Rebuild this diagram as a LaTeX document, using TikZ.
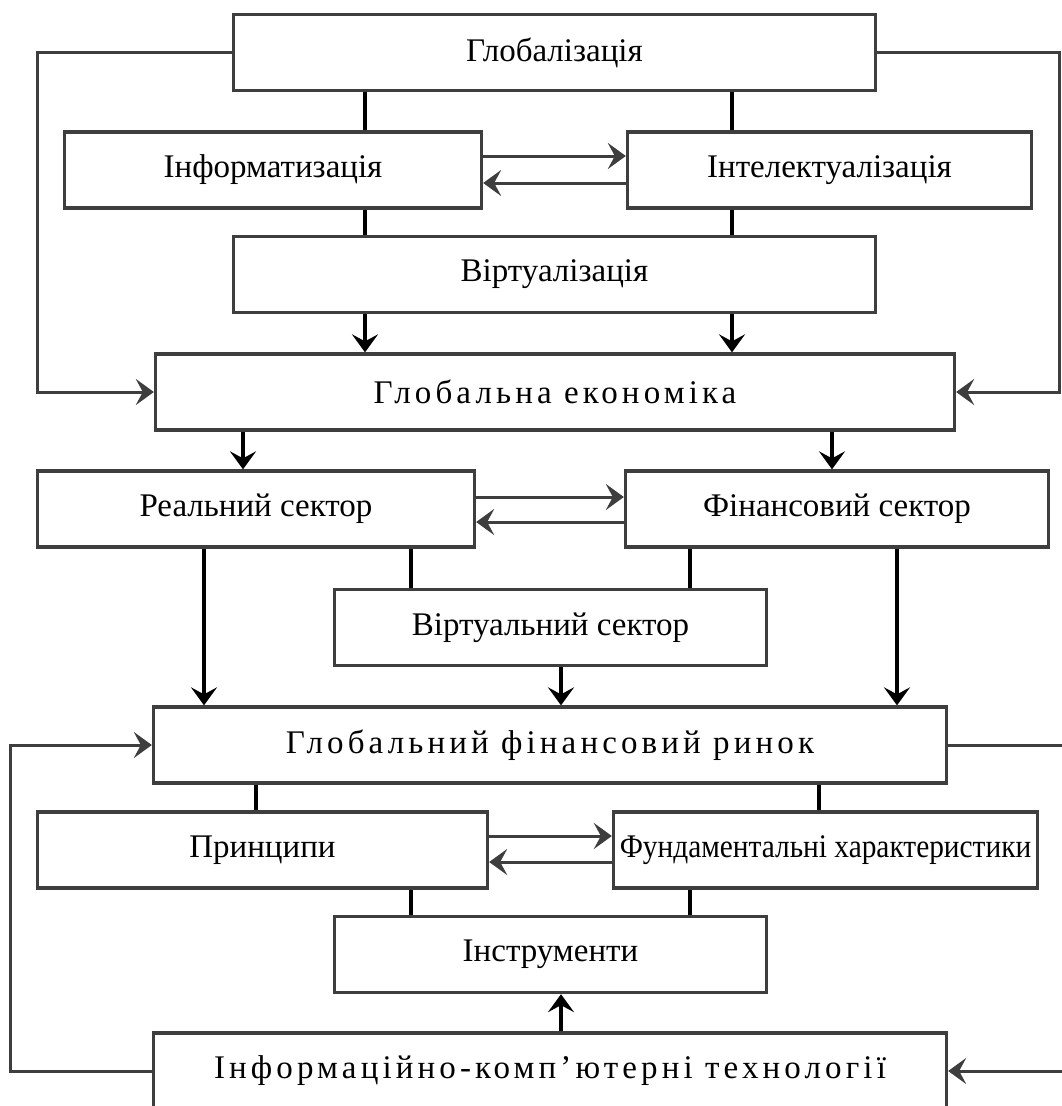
\documentclass[tikz,border=0pt]{standalone}
\usepackage{fontspec}
\setmainfont{Liberation Serif}
\usepackage{tikz}
\usetikzlibrary{arrows.meta}
\definecolor{boxgray}{RGB}{62,62,62}

\begin{document}
\begin{tikzpicture}[x=1pt,y=-1pt,
    box/.style={draw=boxgray, line width=3.3pt, minimum height=76pt, inner sep=0pt,
      font=\fontsize{33}{38}\selectfont},
    wide/.style={box, font=\fontsize{33}{38}\selectfont\addfontfeature{LetterSpace=12.5}},
    link/.style={line width=3.5pt, black},
    down/.style={link, -{Stealth[length=18pt,width=26pt,inset=7pt]}},
    side/.style={line width=3pt, boxgray, -{Stealth[length=18pt,width=26pt,inset=7pt]}}]
    \useasboundingbox (0,0) rectangle (1061,1106);
    \node [box, minimum width=642pt] (glob) at (554.5,52.5) {Глобалізація};
    \node [box, minimum width=417pt] (info) at (273,170) {Інформатизація};
    \node [box, minimum width=404pt] (intel) at (829.5,170) {Інтелектуалізація};
    \node [box, minimum width=642pt] (virt) at (554.5,274.5) {Віртуалізація};
    \node [wide, minimum width=799pt] (econ) at (555,392) {Глобальна економіка};
    \node [box, minimum width=437pt] (real) at (256,509) {Реальний сектор};
    \node [box, minimum width=423pt] (fin) at (837,509) {Фінансовий сектор};
    \node [box, minimum width=432pt] (vsec) at (550.5,627.5) {Віртуальний сектор};
    \node [wide, minimum width=793pt] (gfin) at (550,745) {Глобальний фінансовий ринок};
    \node [box, minimum width=450pt] (princ) at (262.5,850) {Принципи};
    \node [box, minimum width=424pt, font=\fontsize{33}{38}\selectfont\addfontfeature{FakeStretch=0.89}]
      (fund) at (825.5,850) {Фундаментальні характеристики};
    \node [box, minimum width=432pt] (instr) at (550.5,954.5) {Інструменти};
    \node [wide, minimum width=793pt] (ict) at (550,1071) {Інформаційно-комп’ютерні технології};

    \draw [link] (glob.south -| 365,0) -- (info.north -| 365,0);
    \draw [link] (glob.south -| 732,0) -- (intel.north -| 732,0);
    \draw [link] (info.south -| 365,0) -- (virt.north -| 365,0);
    \draw [link] (intel.south -| 732,0) -- (virt.north -| 732,0);
    \draw [down] (virt.south -| 365,0) -- (econ.north -| 365,0);
    \draw [down] (virt.south -| 732,0) -- (econ.north -| 732,0);
    \draw [side] (info.east |- 0,156) -- (intel.west |- 0,156);
    \draw [side] (intel.west |- 0,183) -- (info.east |- 0,183);
    \draw [side] (glob.west) -- (glob.west -| 37,0) |- (econ.west);
    \draw [side] (glob.east) -- (glob.east -| 1059,0) |- (econ.east);

    \draw [down] (econ.south -| 243,0) -- (real.north -| 243,0);
    \draw [down] (econ.south -| 832,0) -- (fin.north -| 832,0);
    \draw [side] (real.east |- 0,497) -- (fin.west |- 0,497);
    \draw [side] (fin.west |- 0,522) -- (real.east |- 0,522);
    \draw [link] (real.south -| 411,0) -- (vsec.north -| 411,0);
    \draw [link] (fin.south -| 690,0) -- (vsec.north -| 690,0);
    \draw [down] (real.south -| 204,0) -- (gfin.north -| 204,0);
    \draw [down] (fin.south -| 897,0) -- (gfin.north -| 897,0);
    \draw [down] (vsec.south -| 561,0) -- (gfin.north -| 561,0);

    \draw [link] (gfin.south -| 256,0) -- (princ.north -| 256,0);
    \draw [link] (gfin.south -| 819,0) -- (fund.north -| 819,0);
    \draw [side] (princ.east |- 0,836) -- (fund.west |- 0,836);
    \draw [side] (fund.west |- 0,862) -- (princ.east |- 0,862);
    \draw [link] (princ.south -| 411,0) -- (instr.north -| 411,0);
    \draw [link] (fund.south -| 690,0) -- (instr.north -| 690,0);
    \draw [down] (ict.north -| 561,0) -- (instr.south -| 561,0);
    \draw [side] (ict.west) -- (ict.west -| 10,0) |- (gfin.west);
    \draw [side] (gfin.east) -- (gfin.east -| 1080,0) |- (ict.east);
\end{tikzpicture}
\end{document}
